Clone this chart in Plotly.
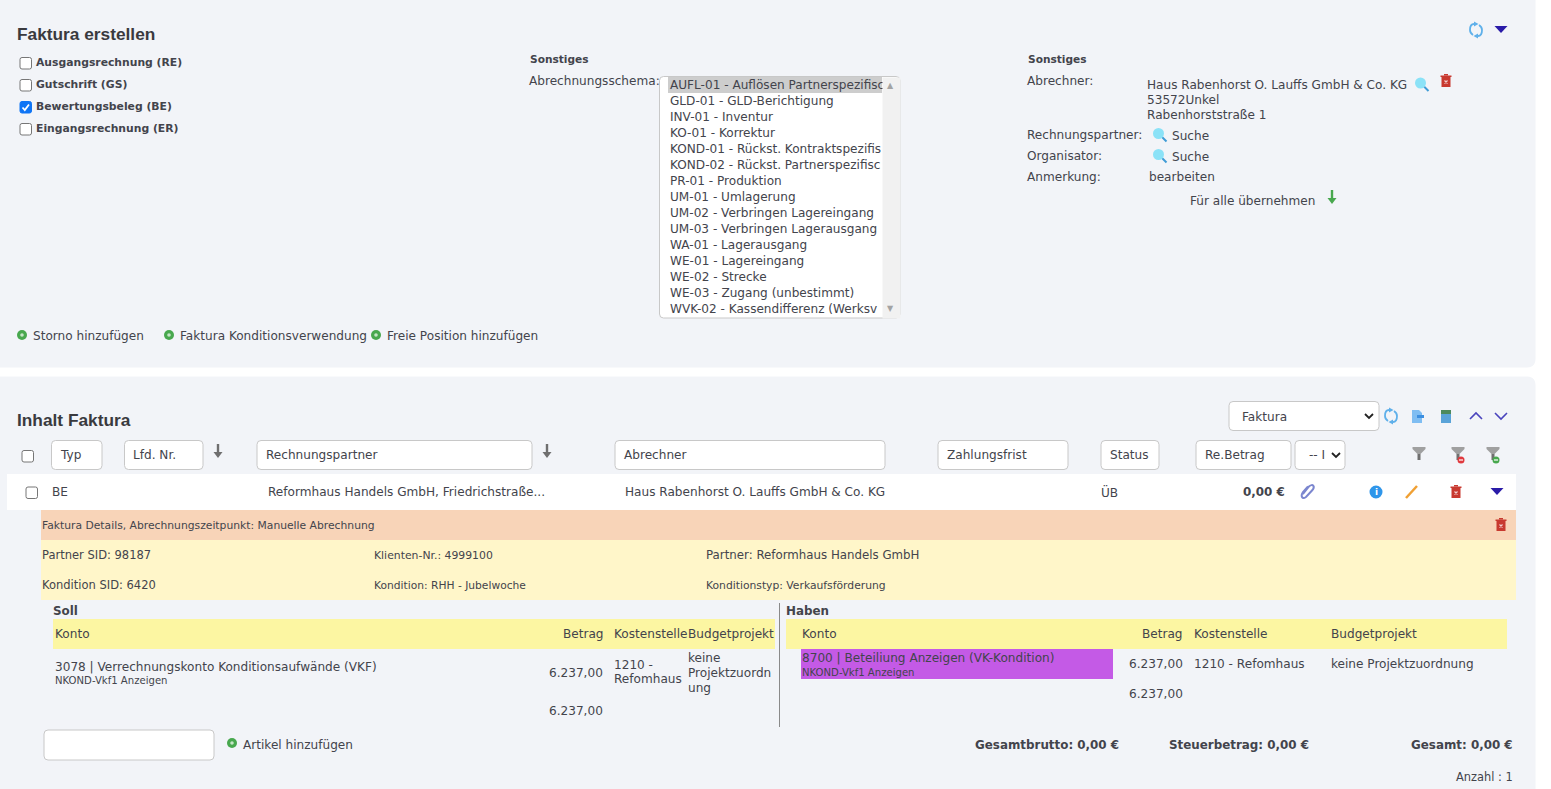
import plotly.graph_objects as go

# texts of the form
TITLE_TOP = "Faktura erstellen"
TITLE_BOTTOM = "Inhalt Faktura"
INVOICE_TYPES = ["Ausgangsrechnung (RE)", "Gutschrift (GS)", "Bewertungsbeleg (BE)", "Eingangsrechnung (ER)"]
INVOICE_CHECKED = [False, False, True, False]
SCHEMA_LABEL = "Abrechnungsschema:"
# the list box cuts its long entries, so only the visible part is kept
SCHEMA_ITEMS = [
    "AUFL-01 - Auflösen Partnerspezifisc",
    "GLD-01 - GLD-Berichtigung",
    "INV-01 - Inventur",
    "KO-01 - Korrektur",
    "KOND-01 - Rückst. Kontraktspezifis",
    "KOND-02 - Rückst. Partnerspezifisc",
    "PR-01 - Produktion",
    "UM-01 - Umlagerung",
    "UM-02 - Verbringen Lagereingang",
    "UM-03 - Verbringen Lagerausgang",
    "WA-01 - Lagerausgang",
    "WE-01 - Lagereingang",
    "WE-02 - Strecke",
    "WE-03 - Zugang (unbestimmt)",
    "WVK-02 - Kassendifferenz (Werksv",
]
BILLER_ADDRESS = ["Haus Rabenhorst O. Lauffs GmbH & Co. KG", "53572Unkel", "Rabenhorststraße 1"]
ADD_LINKS = ["Storno hinzufügen", "Faktura Konditionsverwendung", "Freie Position hinzufügen"]
FILTER_LABELS = ["Typ", "Lfd. Nr.", "Rechnungspartner", "Abrechner", "Zahlungsfrist", "Status", "Re.Betrag", "-- I"]
ROW_PARTNER = "Reformhaus Handels GmbH, Friedrichstraße..."
ROW_BILLER = "Haus Rabenhorst O. Lauffs GmbH & Co. KG"
ROW_TOTAL = "0,00 €"
BOOKING_COLUMNS = ["Konto", "Betrag", "Kostenstelle", "Budgetprojekt"]
AMOUNT = "6.237,00"
TOTALS = ["Gesamtbrutto: 0,00 €", "Steuerbetrag: 0,00 €", "Gesamt: 0,00 €"]

FONT = "DejaVu Sans"
TEXT = "#43444c"
SIZE = 12.1
BOLD_SMALL = 10.8
BOLD_SIZE = 11.9

shapes = []
notes = []


def label(x, y, text, size=SIZE, bold=False, anchor="left", color=TEXT, family=FONT):
    if bold:
        text = f"<b>{text}</b>"
    notes.append(dict(x=x, y=y, text=text, xref="x", yref="y", showarrow=False, xanchor=anchor, yanchor="middle",
                      borderpad=0, borderwidth=0, font=dict(family=family, size=size, color=color)))


def rect(x0, y0, x1, y1, fill, line=None, width=1):
    shapes.append(dict(type="rect", x0=x0, y0=y0, x1=x1, y1=y1, fillcolor=fill, layer="above",
                       line=dict(color=line or fill, width=width if line else 0)))


def path(d, fill="rgba(0,0,0,0)", line=None, width=1):
    shapes.append(dict(type="path", path=d, fillcolor=fill, layer="above",
                       line=dict(color=line or "rgba(0,0,0,0)", width=width if line else 0)))


def round_box(x0, y0, x1, y1, fill="#ffffff", line="#c8c8c8", r=4):
    d = (f"M{x0 + r},{y0} L{x1 - r},{y0} Q{x1},{y0} {x1},{y0 + r} L{x1},{y1 - r} Q{x1},{y1} {x1 - r},{y1} "
         f"L{x0 + r},{y1} Q{x0},{y1} {x0},{y1 - r} L{x0},{y0 + r} Q{x0},{y0} {x0 + r},{y0} Z")
    path(d, fill, line)


def circle(cx, cy, r, fill, line=None, width=1):
    shapes.append(dict(type="circle", x0=cx - r, y0=cy - r, x1=cx + r, y1=cy + r, fillcolor=fill, layer="above",
                       line=dict(color=line or fill, width=width if line else 0)))


def checkbox(x, y, checked=False):
    if checked:
        round_box(x, y, x + 11.5, y + 11.5, "#0f75f5", "#0f75f5", 2)
        path(f"M{x + 2.5},{y + 6} L{x + 4.8},{y + 8.5} L{x + 9},{y + 3}", line="#ffffff", width=1.8)
    else:
        round_box(x, y, x + 11.5, y + 11.5, "#ffffff", "#767676", 2)


def bullet(x, y):
    circle(x, y, 5, "#48a84e")
    circle(x, y, 1.8, "#c5e5c6")


def magnifier(x, y):
    path(f"M{x + 2},{y + 2} L{x + 6.5},{y + 6.5}", line="#3f9bd6", width=2)
    circle(x - 1.5, y - 1.5, 5.5, "#8be2f7")


def trash(x, y, color="#c8392f"):
    rect(x - 4.5, y - 4, x + 4.5, y + 6, color)
    rect(x - 5.5, y - 5.5, x + 5.5, y - 4, color)
    rect(x - 2, y - 7, x + 2, y - 5.5, color)
    path(f"M{x - 1.5},{y - 0.5} L{x + 1.5},{y + 2.5} M{x + 1.5},{y - 0.5} L{x - 1.5},{y + 2.5}", line="#f2d0d0", width=1.2)


def triangle(x, y):
    path(f"M{x - 6.5},{y - 3.5} L{x + 6.5},{y - 3.5} L{x},{y + 3.5} Z", "#2a1ba8")


def down_arrow(x, y, color):
    rect(x - 1.2, y - 7, x + 1.2, y + 2, color)
    path(f"M{x - 4.5},{y + 1} L{x + 4.5},{y + 1} L{x},{y + 7} Z", color)


def reload_icon(x, y):
    r = 6
    c = "#5fb0ea"
    path(f"M{x - 2},{y - r} Q{x - r},{y - r} {x - r},{y} Q{x - r},{y + 3} {x - 3},{y + 5}", line=c, width=1.8)
    path(f"M{x + 2},{y + r} Q{x + r},{y + r} {x + r},{y} Q{x + r},{y - 3} {x + 3},{y - 5}", line=c, width=1.8)
    path(f"M{x - 2},{y - r - 2.5} L{x + 2.5},{y - r} L{x - 2},{y - r + 2.5} Z", c)
    path(f"M{x + 2},{y + r - 2.5} L{x - 2.5},{y + r} L{x + 2},{y + r + 2.5} Z", c)


def chevron(x, y, up, color="#4a44bd"):
    d = -1 if up else 1
    path(f"M{x - 6},{y - 3 * d} L{x},{y + 3 * d} L{x + 6},{y - 3 * d}", line=color, width=1.6)


def select_chevron(x, y):
    path(f"M{x - 4},{y - 2} L{x},{y + 2} L{x + 4},{y - 2}", line="#222222", width=1.8)


def funnel(x, y):
    path(f"M{x - 6.5},{y - 7} L{x + 6.5},{y - 7} L{x + 6.5},{y - 5} L{x + 1.5},{y} L{x - 1.5},{y} L{x - 6.5},{y - 5} Z", "#a0a0a0")
    rect(x - 1.5, y, x + 1.5, y + 6, "#6f6f6f")


# page panels
rect(0, 0, 1551, 789, "#ffffff")
round_box(-8, -8, 1535, 367, "#f2f4f8", "#f2f4f8", 8)
round_box(-8, 377, 1535, 800, "#f2f4f8", "#f2f4f8", 8)

# upper form
label(17, 34, TITLE_TOP, size=17.3, bold=True, family="Liberation Sans", color="#3a3a3e")
for i, name in enumerate(INVOICE_TYPES):
    checkbox(20, 57.5 + 22 * i, INVOICE_CHECKED[i])
    label(36, 62 + 22 * i, name, bold=True, size=BOLD_SMALL)

label(530, 59, "Sonstiges", bold=True, size=10.6)
label(529, 80.5, SCHEMA_LABEL)
round_box(659.5, 76.5, 900, 318, "#ffffff", "#c8c8c8", 4)
rect(668, 77, 882, 93, "#cdcdcd")
for i, item in enumerate(SCHEMA_ITEMS):
    label(670, 85 + 16 * i, item)
# the scrollbar has to lie over the list texts, so it is an annotation too
notes.append(dict(x=882, y=77, text=" ", xref="x", yref="y", showarrow=False, xanchor="left", yanchor="top",
                  width=17, height=240, bgcolor="#f1f1f1", borderpad=0))
label(890.7, 85.5, "▲", size=8, anchor="center", color="#a3a3a3")
label(890.7, 308, "▼", size=8, anchor="center", color="#a3a3a3")

label(1028, 59, "Sonstiges", bold=True, size=10.6)
label(1027, 80.5, "Abrechner:")
for i, line in enumerate(BILLER_ADDRESS):
    label(1147, 85 + 15 * i, line)
magnifier(1422, 84.5)
trash(1446, 81)
label(1027, 135, "Rechnungspartner:")
magnifier(1160, 135)
label(1172, 135.5, "Suche")
label(1027, 156, "Organisator:")
magnifier(1160, 156)
label(1172, 156.5, "Suche")
label(1027, 176.5, "Anmerkung:")
label(1149, 176.5, "bearbeiten")
label(1190, 200.5, "Für alle übernehmen")
down_arrow(1332, 197, "#48a84e")
reload_icon(1476, 30)
triangle(1501, 29.5)

for x, name in zip([22, 169, 376], ADD_LINKS):
    bullet(x, 335)
    label(x + 11, 335.5, name)

# lower table head
label(17, 420, TITLE_BOTTOM, size=17.3, bold=True, family="Liberation Sans", color="#3a3a3e")
round_box(1229, 401.5, 1379, 430.5)
label(1242, 416.5, "Faktura")
select_chevron(1369, 416)
reload_icon(1391, 416)
path("M1412,410 L1419,410 L1422,413 L1422,423 L1412,423 Z", "#7fbdf2")
rect(1417, 415, 1424, 418, "#3d8fe0")
rect(1441, 410, 1451, 423, "#5aa3d8")
rect(1441, 410, 1451, 414, "#4d8a5c")
chevron(1476, 416, True)
chevron(1501, 416, False)

checkbox(22, 450.5)
boxes = [(51.5, 102), (124.5, 203), (257, 532), (615, 885), (938, 1068), (1101, 1159), (1196, 1291), (1295, 1345)]
for (x0, x1), name in zip(boxes, FILTER_LABELS):
    round_box(x0, 440.5, x1, 469.5)
    label(x0 + (14 if name == "-- I" else 8.5), 454.5, name)
select_chevron(1336, 455)
down_arrow(218, 451, "#6f6f6f")
down_arrow(547, 451, "#6f6f6f")
funnel(1419, 454)
funnel(1458, 454)
circle(1461, 460, 3.5, "#e0393e")
rect(1459, 459.4, 1463, 460.6, "#ffffff")
funnel(1493, 454)
circle(1496, 460, 3.5, "#48a84e")
rect(1494, 459.4, 1498, 460.6, "#ffffff")

# table row
rect(7, 474, 1516, 510, "#ffffff")
checkbox(26, 487)
label(52, 492, "BE")
label(268, 492, ROW_PARTNER)
label(625, 492, ROW_BILLER)
label(1101, 492, "ÜB")
label(1285, 492, ROW_TOTAL, bold=True, anchor="right", size=BOLD_SIZE)
path("M1303,494 L1309,486.5 Q1312,484 1313.5,486 Q1314.5,488 1312,490.5 L1306,497 Q1303,499 1302,497 Q1301,495 1303,492 L1308,486.5",
     line="#7b86cf", width=2)
circle(1376, 492, 6.5, "#2f96ea")
label(1376, 492, "<b>i</b>", size=9, anchor="center", color="#ffffff")
path("M1406,498 L1417,486", line="#f0a033", width=2.5)
trash(1456, 492)
triangle(1497, 491.5)

# details
rect(41, 510, 1516, 540, "#f8d4b8")
label(42, 525, "Faktura Details, Abrechnungszeitpunkt: Manuelle Abrechnung", size=10.75)
trash(1501, 525)
rect(41, 540, 1516, 600, "#fff6c9")
label(42, 555, "Partner SID: 98187", size=11.5)
label(374, 555, "Klienten-Nr.: 4999100", size=10.85)
label(706, 555, "Partner: Reformhaus Handels GmbH", size=11.8)
label(42, 585, "Kondition SID: 6420", size=11.5)
label(374, 585, "Kondition: RHH - Jubelwoche", size=10.7)
label(706, 585, "Konditionstyp: Verkaufsförderung", size=10.75)

# Soll
label(53, 611, "Soll", bold=True, size=BOLD_SIZE)
rect(53, 619, 775, 649, "#fcf6a2")
label(55, 633.5, BOOKING_COLUMNS[0])
label(604, 633.5, BOOKING_COLUMNS[1], anchor="right")
label(614, 633.5, BOOKING_COLUMNS[2])
label(688, 633.5, BOOKING_COLUMNS[3])
label(55, 666.5, "3078 | Verrechnungskonto Konditionsaufwände (VKF)")
label(55, 680.5, "NKOND-Vkf1 Anzeigen", size=10.1)
label(603, 672.5, AMOUNT, anchor="right")
label(614, 664.5, "1210 -")
label(614, 679, "Refomhaus")
label(688, 657.5, "keine")
label(688, 672.5, "Projektzuordn")
label(688, 688, "ung")
label(603, 710.5, AMOUNT, anchor="right")
rect(779, 603, 780, 727, "#8a8a8a")
round_box(44, 730, 214, 760)
bullet(232, 743)
label(243, 744.5, "Artikel hinzufügen")

# Haben
label(786, 611, "Haben", bold=True, size=BOLD_SIZE)
rect(786, 619, 1507, 649, "#fcf6a2")
label(802, 633.5, BOOKING_COLUMNS[0])
label(1183, 633.5, BOOKING_COLUMNS[1], anchor="right")
label(1194, 633.5, BOOKING_COLUMNS[2])
label(1331, 633.5, BOOKING_COLUMNS[3])
rect(801, 649, 1113, 679, "#c45ae6")
label(802, 657.5, "8700 | Beteiliung Anzeigen (VK-Kondition)")
label(802, 672, "NKOND-Vkf1 Anzeigen", size=10.1)
label(1183, 663.5, AMOUNT, anchor="right")
label(1194, 663.5, "1210 - Refomhaus")
label(1331, 663.5, "keine Projektzuordnung")
label(1183, 693.5, AMOUNT, anchor="right")

for x, name in zip([1119, 1309, 1513], TOTALS):
    label(x, 744.5, name, bold=True, anchor="right", size=BOLD_SIZE)
label(1513, 776.5, "Anzahl : 1", anchor="right", size=11.4)

fig = go.Figure()
fig.update_layout(
    width=1551, height=789,
    margin=dict(l=0, r=0, t=0, b=0),
    paper_bgcolor="#ffffff", plot_bgcolor="#ffffff",
    showlegend=False,
    xaxis=dict(range=[0, 1551], visible=False, fixedrange=True),
    yaxis=dict(range=[789, 0], visible=False, fixedrange=True),
    shapes=shapes,
    annotations=notes,
)
fig.write_html("out.html", config={"displayModeBar": False},
               post_script="document.body.style.margin='0';document.documentElement.style.overflow='hidden';")
